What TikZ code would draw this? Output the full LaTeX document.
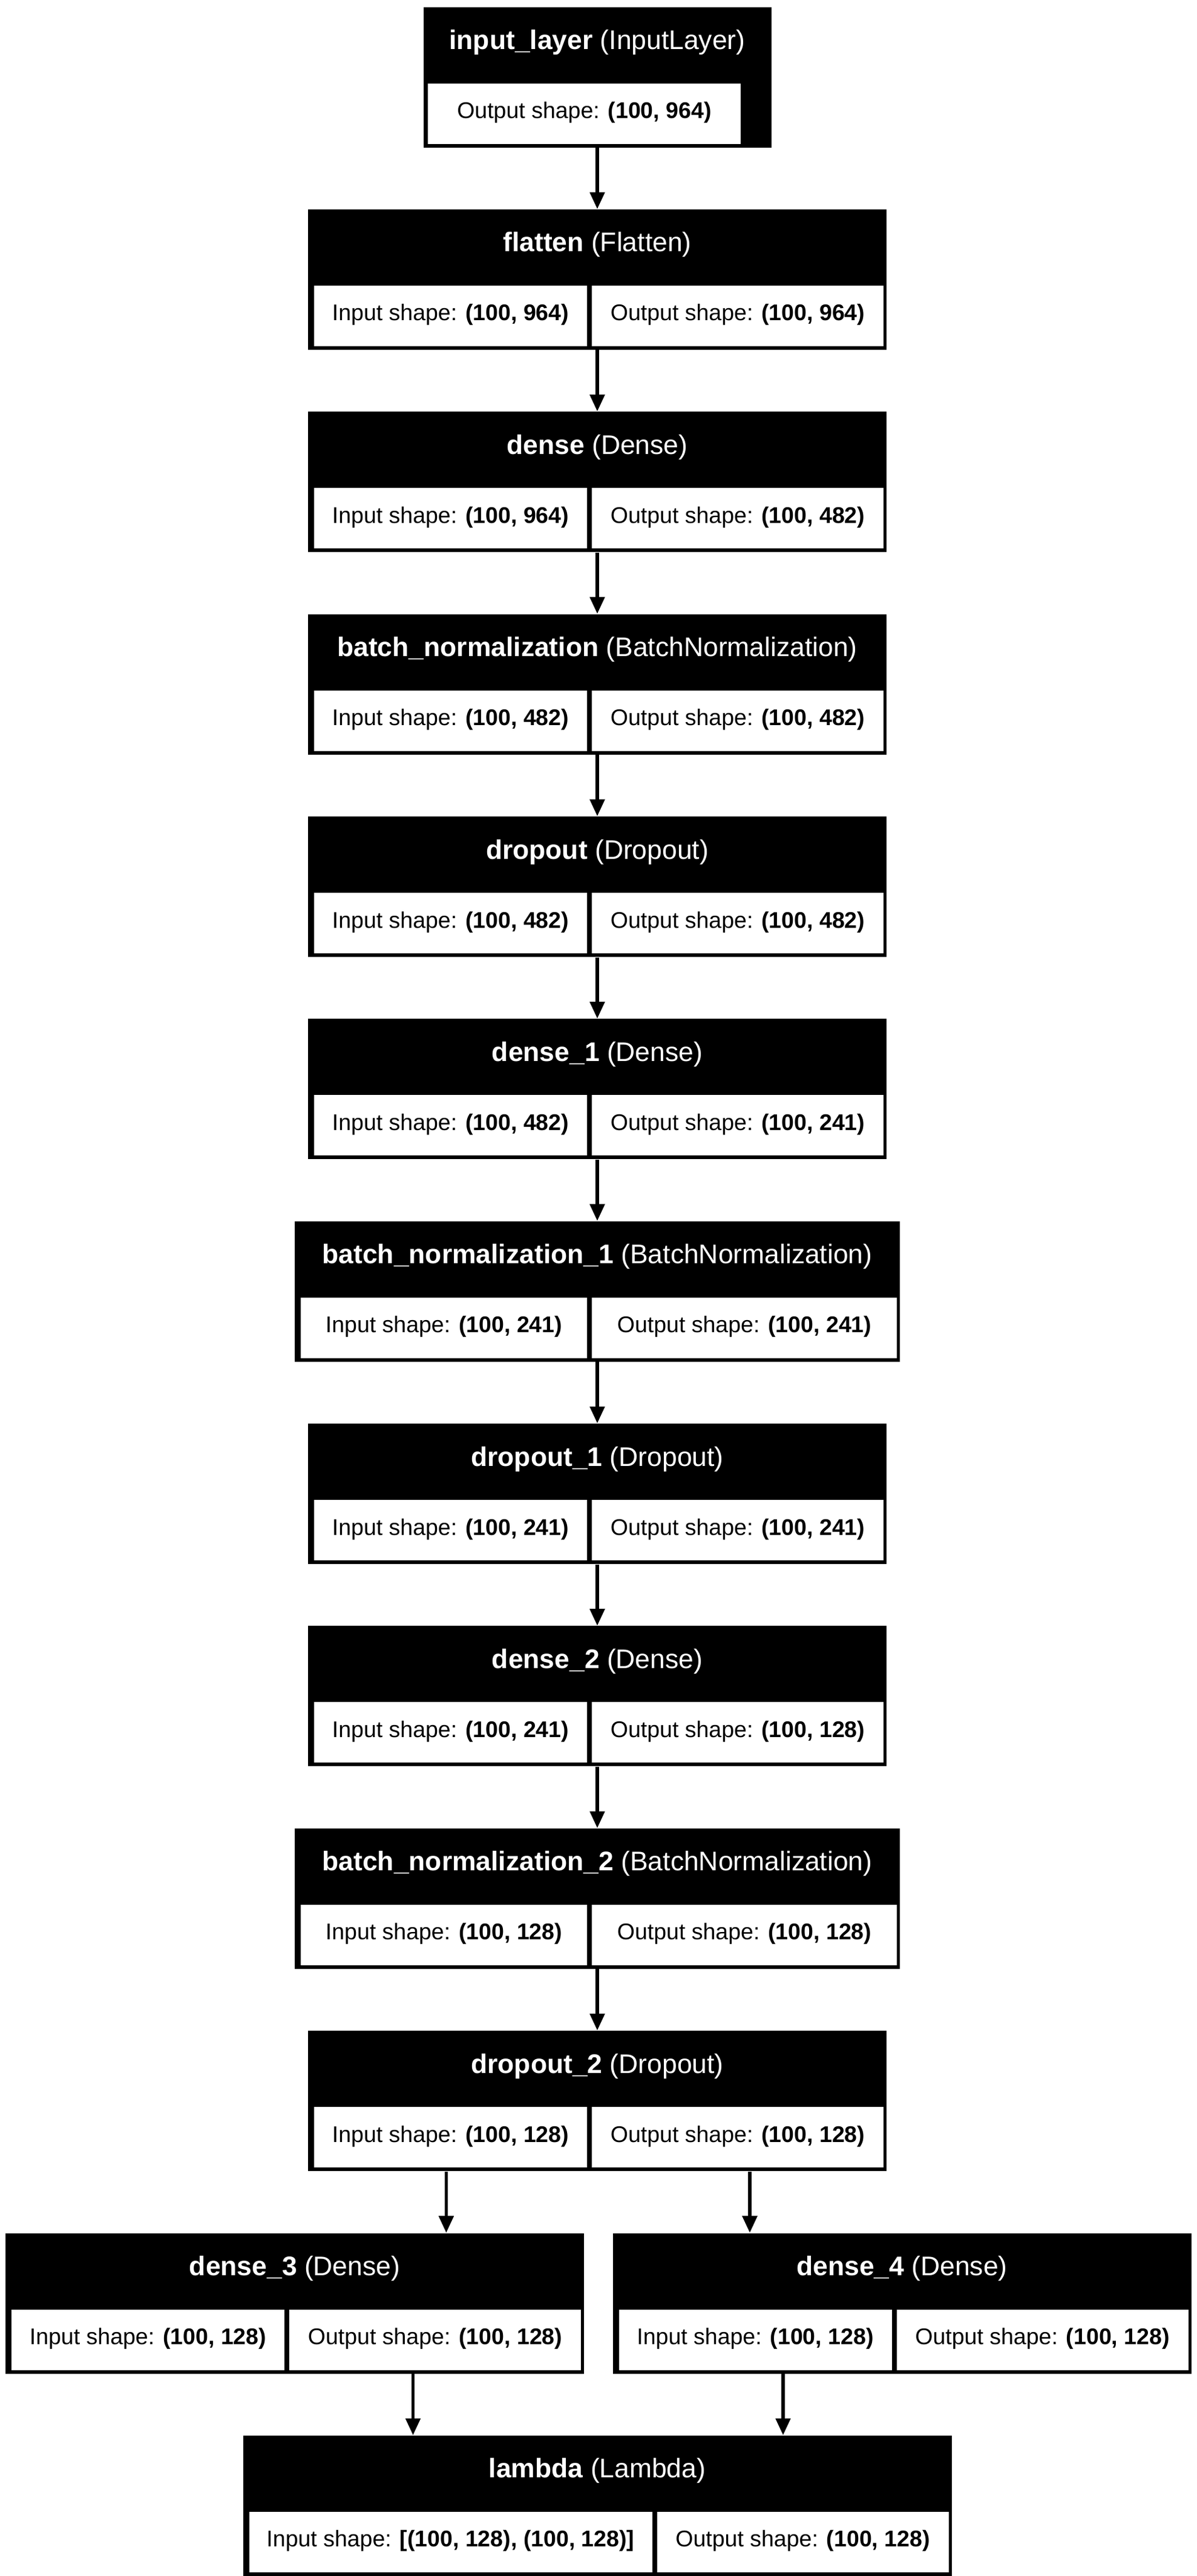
\documentclass[tikz,border=0pt]{standalone}
\usepackage{fontspec}
\setmainfont{Liberation Sans}
\usetikzlibrary{arrows.meta,positioning}

\begin{document}
\begin{tikzpicture}[node distance=36.45pt,
    layer/.style = {fill=black, text=white, inner sep=0pt, minimum width=344.16pt,
        text height=25.2pt, text depth=58.32pt, font=\fontsize{16}{19}\selectfont},
    cell/.style = {fill=white, inner sep=0pt, text height=20.88pt, text depth=15.12pt,
        font=\fontsize{13.5}{16}\selectfont},
    incell/.style = {cell, minimum width=162.36pt},
    outcell/.style = {cell, minimum width=173.52pt},
    link/.style = {-{Triangle[length=10pt,width=8.6pt]}, line width=2pt}]
\useasboundingbox (0,0) rectangle (712.08pt,-1532.16pt);
\node[layer, minimum width=207pt, anchor=north] (input) at (355.32pt,-3.96pt)
    {\textbf{input\_layer} (InputLayer)};
\node[cell, minimum width=186.12pt, below right=45.36pt and 2.7pt of input.north west] (input-o)
    {Output shape: \textbf{(100, 964)}};
\node[layer, below=of input] (flatten) {\textbf{flatten} (Flatten)};
\node[incell, below right=45.36pt and 3.6pt of flatten.north west] (flatten-i) {Input shape: \textbf{(100, 964)}};
\node[outcell, right=2.52pt of flatten-i] (flatten-o) {Output shape: \textbf{(100, 964)}};
\node[layer, below=of flatten] (dense) {\textbf{dense} (Dense)};
\node[incell, below right=45.36pt and 3.6pt of dense.north west] (dense-i) {Input shape: \textbf{(100, 964)}};
\node[outcell, right=2.52pt of dense-i] (dense-o) {Output shape: \textbf{(100, 482)}};
\node[layer, below=of dense] (batchnorm) {\textbf{batch\_normalization} (BatchNormalization)};
\node[incell, below right=45.36pt and 3.6pt of batchnorm.north west] (batchnorm-i) {Input shape: \textbf{(100, 482)}};
\node[outcell, right=2.52pt of batchnorm-i] (batchnorm-o) {Output shape: \textbf{(100, 482)}};
\node[layer, below=of batchnorm] (dropout) {\textbf{dropout} (Dropout)};
\node[incell, below right=45.36pt and 3.6pt of dropout.north west] (dropout-i) {Input shape: \textbf{(100, 482)}};
\node[outcell, right=2.52pt of dropout-i] (dropout-o) {Output shape: \textbf{(100, 482)}};
\node[layer, below=of dropout] (dense1) {\textbf{dense\_1} (Dense)};
\node[incell, below right=45.36pt and 3.6pt of dense1.north west] (dense1-i) {Input shape: \textbf{(100, 482)}};
\node[outcell, right=2.52pt of dense1-i] (dense1-o) {Output shape: \textbf{(100, 241)}};
\node[layer, minimum width=360pt, below=of dense1] (batchnorm1) {\textbf{batch\_normalization\_1} (BatchNormalization)};
\node[incell, minimum width=170.28pt, below right=45.36pt and 3.6pt of batchnorm1.north west] (batchnorm1-i) {Input shape: \textbf{(100, 241)}};
\node[outcell, minimum width=181.44pt, right=2.52pt of batchnorm1-i] (batchnorm1-o) {Output shape: \textbf{(100, 241)}};
\node[layer, below=of batchnorm1] (dropout1) {\textbf{dropout\_1} (Dropout)};
\node[incell, below right=45.36pt and 3.6pt of dropout1.north west] (dropout1-i) {Input shape: \textbf{(100, 241)}};
\node[outcell, right=2.52pt of dropout1-i] (dropout1-o) {Output shape: \textbf{(100, 241)}};
\node[layer, below=of dropout1] (dense2) {\textbf{dense\_2} (Dense)};
\node[incell, below right=45.36pt and 3.6pt of dense2.north west] (dense2-i) {Input shape: \textbf{(100, 241)}};
\node[outcell, right=2.52pt of dense2-i] (dense2-o) {Output shape: \textbf{(100, 128)}};
\node[layer, minimum width=360pt, below=of dense2] (batchnorm2) {\textbf{batch\_normalization\_2} (BatchNormalization)};
\node[incell, minimum width=170.28pt, below right=45.36pt and 3.6pt of batchnorm2.north west] (batchnorm2-i) {Input shape: \textbf{(100, 128)}};
\node[outcell, minimum width=181.44pt, right=2.52pt of batchnorm2-i] (batchnorm2-o) {Output shape: \textbf{(100, 128)}};
\node[layer, below=of batchnorm2] (dropout2) {\textbf{dropout\_2} (Dropout)};
\node[incell, below right=45.36pt and 3.6pt of dropout2.north west] (dropout2-i) {Input shape: \textbf{(100, 128)}};
\node[outcell, right=2.52pt of dropout2-i] (dropout2-o) {Output shape: \textbf{(100, 128)}};
\node[layer, below=of dropout2, xshift=-180pt] (dense3) {\textbf{dense\_3} (Dense)};
\node[incell, below right=45.36pt and 3.6pt of dense3.north west] (dense3-i) {Input shape: \textbf{(100, 128)}};
\node[outcell, right=2.52pt of dense3-i] (dense3-o) {Output shape: \textbf{(100, 128)}};
\node[layer, below=of dropout2, xshift=181.26pt] (dense4) {\textbf{dense\_4} (Dense)};
\node[incell, below right=45.36pt and 3.6pt of dense4.north west] (dense4-i) {Input shape: \textbf{(100, 128)}};
\node[outcell, right=2.52pt of dense4-i] (dense4-o) {Output shape: \textbf{(100, 128)}};
\node[layer, minimum width=421.56pt, below=of dense3, xshift=180pt] (lambda) {\textbf{lambda} (Lambda)};
\node[incell, minimum width=239.76pt, below right=45.36pt and 3.6pt of lambda.north west] (lambda-i) {Input shape: \textbf{[(100, 128), (100, 128)]}};
\node[outcell, right=2.52pt of lambda-i] (lambda-o) {Output shape: \textbf{(100, 128)}};
\draw[link] (input) -- (flatten);
\draw[link] (flatten) -- (dense);
\draw[link] (dense) -- (batchnorm);
\draw[link] (batchnorm) -- (dropout);
\draw[link] (dropout) -- (dense1);
\draw[link] (dense1) -- (batchnorm1);
\draw[link] (batchnorm1) -- (dropout1);
\draw[link] (dropout1) -- (dense2);
\draw[link] (dense2) -- (batchnorm2);
\draw[link] (batchnorm2) -- (dropout2);
\draw[link] ([xshift=-89.86pt]dropout2.south) -- ([xshift=-89.86pt]dropout2.south |- dense3.north);
\draw[link] ([xshift=90.72pt]dropout2.south) -- ([xshift=90.72pt]dropout2.south |- dense4.north);
\draw[link] ([xshift=70.38pt]dense3.south) -- ([xshift=70.38pt]dense3.south |- lambda.north);
\draw[link] ([xshift=-70.74pt]dense4.south) -- ([xshift=-70.74pt]dense4.south |- lambda.north);
\end{tikzpicture}
\end{document}
